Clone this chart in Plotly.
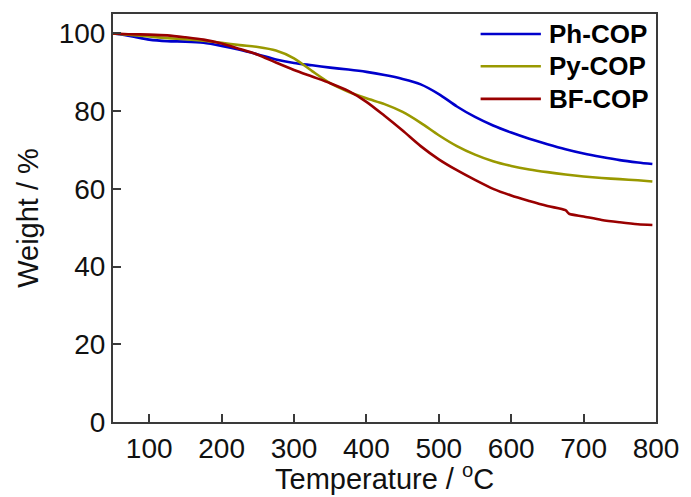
import plotly.graph_objects as go

# Thermogravimetric curves (weight % vs temperature in degC)
temp_ph = [50, 75, 100, 125, 150, 175, 200, 225, 250, 275, 300, 325, 350, 375, 400, 425, 450,
           475, 500, 525, 550, 575, 600, 625, 650, 675, 700, 725, 750, 775, 795]
weight_ph = [100, 99.3, 98.4, 98.0, 97.9, 97.6, 96.8, 95.8, 94.6, 93.3, 92.4, 91.8, 91.2, 90.7,
             90.1, 89.3, 88.3, 86.9, 84.4, 81.2, 78.5, 76.3, 74.5, 72.9, 71.5, 70.2, 69.1, 68.2,
             67.4, 66.8, 66.4]

temp_py = [50, 75, 100, 125, 150, 175, 200, 225, 250, 275, 300, 325, 350, 375, 400, 425, 450,
           475, 500, 525, 550, 575, 600, 625, 650, 675, 700, 725, 750, 775, 795]
weight_py = [100, 99.6, 99.2, 98.8, 98.5, 98.1, 97.6, 97.0, 96.5, 95.6, 93.6, 90.3, 87.2, 85.0,
             83.3, 81.8, 79.8, 77.0, 73.8, 71.0, 68.8, 67.1, 65.9, 65.0, 64.3, 63.7, 63.2, 62.8,
             62.5, 62.2, 61.9]

temp_bf = [50, 75, 100, 125, 150, 175, 200, 225, 250, 275, 300, 325, 350, 375, 400, 425, 450,
           475, 500, 525, 550, 575, 600, 625, 650, 675, 680, 700, 725, 750, 775, 795]
weight_bf = [100, 99.8, 99.7, 99.5, 99.0, 98.4, 97.4, 96.0, 94.5, 92.5, 90.6, 88.9, 87.2, 85.2,
             82.4, 78.8, 75.0, 71.0, 67.6, 64.8, 62.3, 60.0, 58.3, 56.9, 55.6, 54.5, 53.6, 52.9,
             52.0, 51.4, 50.9, 50.7]

series = [
    ("Ph-COP", temp_ph, weight_ph, "#0000CC"),
    ("Py-COP", temp_py, weight_py, "#999900"),
    ("BF-COP", temp_bf, weight_bf, "#990000"),
]

x_ticks = [100, 200, 300, 400, 500, 600, 700, 800]
y_ticks = [0, 20, 40, 60, 80, 100]

font_family = "Liberation Sans, Arial, sans-serif"

fig = go.Figure()
for name, t, w, color in series:
    fig.add_trace(go.Scatter(
        x=t, y=w, mode="lines", name=name, showlegend=False,
        line=dict(color=color, width=2.6, shape="spline", smoothing=0.8),
    ))

# Legend drawn as a key in the upper right corner of the plot area
key_rows_y = [0.951, 0.872, 0.792]
for (name, _, _, color), ky in zip(series, key_rows_y):
    fig.add_shape(type="line", xref="paper", yref="paper",
                  x0=0.677, x1=0.788, y0=ky, y1=ky,
                  line=dict(color=color, width=2.6))
    fig.add_annotation(xref="paper", yref="paper", x=0.800, y=ky,
                       xanchor="left", yanchor="middle", showarrow=False,
                       text="<b>%s</b>" % name,
                       font=dict(family=font_family, size=26, color="#000000"))

# x-axis title placed just under the tick labels
fig.add_annotation(xref="paper", yref="paper", x=0.5, y=-0.134,
                   xanchor="center", yanchor="middle", showarrow=False,
                   text="Temperature / <sup>o</sup>C",
                   font=dict(family=font_family, size=29, color="#111111"))

axis_common = dict(
    showline=True, linecolor="#3a3a3a", linewidth=2, mirror=True,
    ticks="inside", ticklen=8, tickwidth=1.5, tickcolor="#3a3a3a",
    showgrid=False, zeroline=False,
    tickfont=dict(family=font_family, size=28, color="#111111"),
)

fig.update_layout(
    width=691, height=497,
    margin=dict(l=113, r=30, t=13, b=75),
    plot_bgcolor="white", paper_bgcolor="white",
    xaxis=dict(range=[50, 800], tickvals=x_ticks, **axis_common),
    yaxis=dict(range=[0, 105], tickvals=y_ticks,
               title=dict(text="Weight / %", standoff=12,
                          font=dict(family=font_family, size=29, color="#111111")),
               **axis_common),
    showlegend=False,
)

fig.write_html("out.html")
